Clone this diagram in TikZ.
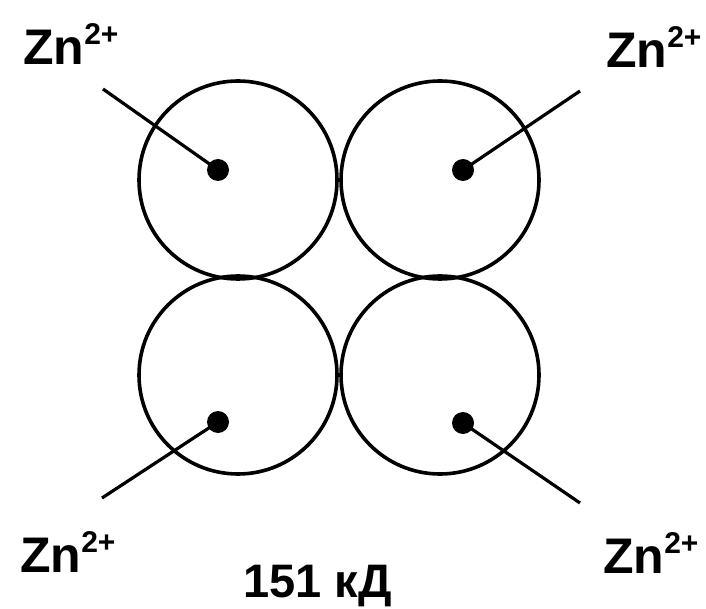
\documentclass[tikz,border=0pt]{standalone}
\usepackage{fontspec}
\setmainfont{Liberation Sans}
\begin{document}
\begin{tikzpicture}[x=1pt,y=-1pt,
  ball/.style={draw=black,line width=3.6pt,circle,minimum size=198pt,inner sep=0pt},
  ion/.style={fill=black,circle,minimum size=22pt,inner sep=0pt},
  lead/.style={line width=3.2pt,black},
  lbl/.style={anchor=base west,inner sep=0pt,font=\fontsize{50}{50}\selectfont\bfseries}]
\useasboundingbox (0,0) rectangle (706,609);
\newcommand{\zn}{Zn\raisebox{20pt}{\fontsize{30}{30}\selectfont 2+}}
% subunits
\node[ball] (c1) at (238,180) {};
\node[ball] (c2) at (440,180) {};
\node[ball] (c3) at (238,375) {};
\node[ball] (c4) at (440,375) {};
% zinc ions
\node[ion] (d1) at (218,170) {};
\node[ion] (d2) at (463,170) {};
\node[ion] (d3) at (218,422) {};
\node[ion] (d4) at (463,423) {};
% labels
\node[lbl] (l1) at (23,65) {\zn};
\node[lbl] (l2) at (606,68) {\zn};
\node[lbl] (l3) at (20,572) {\zn};
\node[lbl] (l4) at (603,573) {\zn};
\node[lbl,font=\fontsize{47}{47}\selectfont\bfseries] (mw) at (243,597) {151 кД};
% leader ends
\coordinate (e1) at (103,89);
\coordinate (e2) at (580,91);
\coordinate (e3) at (102,498);
\coordinate (e4) at (580,503);
\draw[lead] (e1) -- (d1.center);
\draw[lead] (e2) -- (d2.center);
\draw[lead] (e3) -- (d3.center);
\draw[lead] (e4) -- (d4.center);
\end{tikzpicture}
\end{document}
